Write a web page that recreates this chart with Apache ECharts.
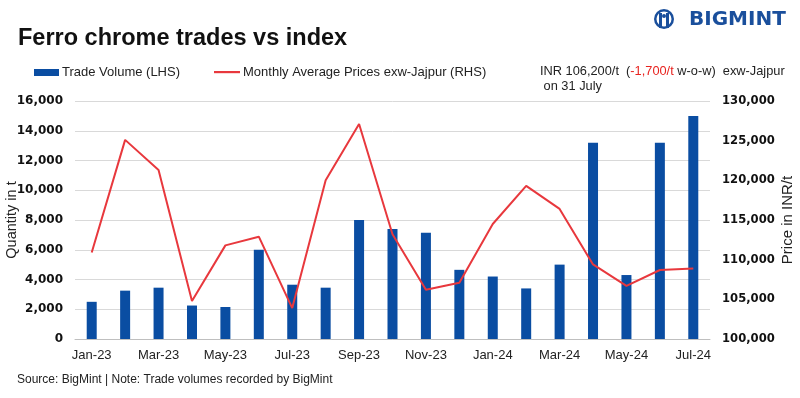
<!DOCTYPE html>
<html>
<head>
<meta charset="utf-8">
<script src="https://cdn.jsdelivr.net/npm/echarts@6/dist/echarts.min.js"></script>
<style>html,body{margin:0;padding:0;background:#fff}#c{width:800px;height:398px}</style>
</head>
<body>
<div id="c"></div>
<script>
const categories = ['Jan-23','Feb-23','Mar-23','Apr-23','May-23','Jun-23','Jul-23','Aug-23','Sep-23','Oct-23','Nov-23','Dec-23','Jan-24','Feb-24','Mar-24','Apr-24','May-24','Jun-24','Jul-24'];
const tradeVolume = [2500,3250,3450,2250,2150,6000,3650,3450,8000,7400,7150,4650,4200,3400,5000,13200,4300,13200,15000];
const avgPrice = [110900,125100,121300,104800,111800,112900,103900,120000,127100,113200,106200,107100,114500,119300,116400,109400,106700,108700,108900];
const leftTicks = {min:0, max:16000, interval:2000};
const rightTicks = {min:100000, max:130000, interval:5000};

const chart = echarts.init(document.getElementById('c'));
const fmt = v => v.toLocaleString('en-US');
const sans = '"Liberation Sans",Arial,sans-serif';
const BLUE = '#0a4da2', RED = '#e8383d';
chart.setOption({
  backgroundColor:'#fff',
  animation:false,
  title:{text:'Ferro chrome trades vs index', left:13, top:22,
    textStyle:{fontFamily:sans, fontWeight:'bold', fontSize:23.5, color:'#111'}},
  grid:{left:75, right:90, top:101, bottom:59, outerBoundsMode:'none', containLabel:false},
  xAxis:{type:'category', data:categories, boundaryGap:true,
    axisLine:{lineStyle:{color:'#bfbfbf'}},
    axisTick:{interval:1, length:5, lineStyle:{color:'#bfbfbf'}},
    axisLabel:{interval:1, margin:10, fontFamily:sans, fontSize:13, color:'#222'}},
  yAxis:[
    {type:'value', min:leftTicks.min, max:leftTicks.max, interval:leftTicks.interval,
     name:'Quantity in t', nameLocation:'middle', nameGap:56, nameRotate:90, nameMoveOverlap:false,
     nameTextStyle:{fontFamily:sans, fontSize:14.5, color:'#222'},
     axisLine:{show:false}, axisTick:{show:false},
     splitLine:{lineStyle:{color:'#d9d9d9'}},
     axisLabel:{formatter:fmt, fontFamily:'"DejaVu Sans",sans-serif', fontWeight:'bold', fontSize:12, color:'#111', margin:12}},
    {type:'value', min:rightTicks.min, max:rightTicks.max, interval:rightTicks.interval,
     name:'Price in INR/t', nameLocation:'middle', nameGap:70, nameRotate:90, nameMoveOverlap:false,
     nameTextStyle:{fontFamily:sans, fontSize:15, color:'#222'},
     axisLine:{show:false}, axisTick:{show:false}, splitLine:{show:false},
     axisLabel:{formatter:fmt, fontFamily:'"DejaVu Sans",sans-serif', fontWeight:'bold', fontSize:11.6, color:'#111', margin:12}}
  ],
  series:[
    {name:'Trade Volume (LHS)', type:'bar', data:tradeVolume, barWidth:10, itemStyle:{color:BLUE}},
    {name:'Monthly Average Prices exw-Jajpur (RHS)', type:'line', yAxisIndex:1, data:avgPrice,
     symbol:'none', lineStyle:{color:RED, width:2}, itemStyle:{color:RED}}
  ],
  graphic:[
    {type:'rect', shape:{x:34, y:69, width:25, height:7}, style:{fill:BLUE}},
    {type:'text', x:62, y:72.5, style:{text:'Trade Volume (LHS)', font:'13px '+sans, fill:'#222', verticalAlign:'middle'}},
    {type:'rect', shape:{x:214, y:71, width:26, height:2.2}, style:{fill:RED}},
    {type:'text', x:243, y:72.5, style:{text:'Monthly Average Prices exw-Jajpur (RHS)', font:'13px '+sans, fill:'#222', verticalAlign:'middle'}},
    {type:'text', x:540, y:64, style:{
      text:'INR 106,200/t  ({r|-1,700/t} w-o-w)  exw-Jajpur\n on 31 July',
      font:'12.8px '+sans, fill:'#222', lineHeight:15,
      rich:{r:{fill:'#e8231f', font:'12.8px '+sans}}}},
    {type:'text', x:17, y:374, style:{
      text:'Source: BigMint | Note: Trade volumes recorded by BigMint',
      font:'12px '+sans, fill:'#222'}},
    {type:'circle', shape:{cx:664, cy:19, r:10}, style:{fill:'#1a4f9c'}},
    {type:'circle', shape:{cx:664, cy:19, r:7.5}, style:{fill:'#fff'}},
    {type:'rect', shape:{x:659, y:13, width:3, height:15}, style:{fill:'#1a4f9c'}},
    {type:'rect', shape:{x:666, y:13, width:3, height:15}, style:{fill:'#1a4f9c'}},
    {type:'circle', shape:{cx:664, cy:16, r:2}, style:{fill:'#1a4f9c'}},
    {type:'text', x:689, y:10, style:{text:'BIGMINT', font:'bold 20px "DejaVu Sans",sans-serif', fill:'#1a4f9c'}}
  ]
});
</script>
</body>
</html>
